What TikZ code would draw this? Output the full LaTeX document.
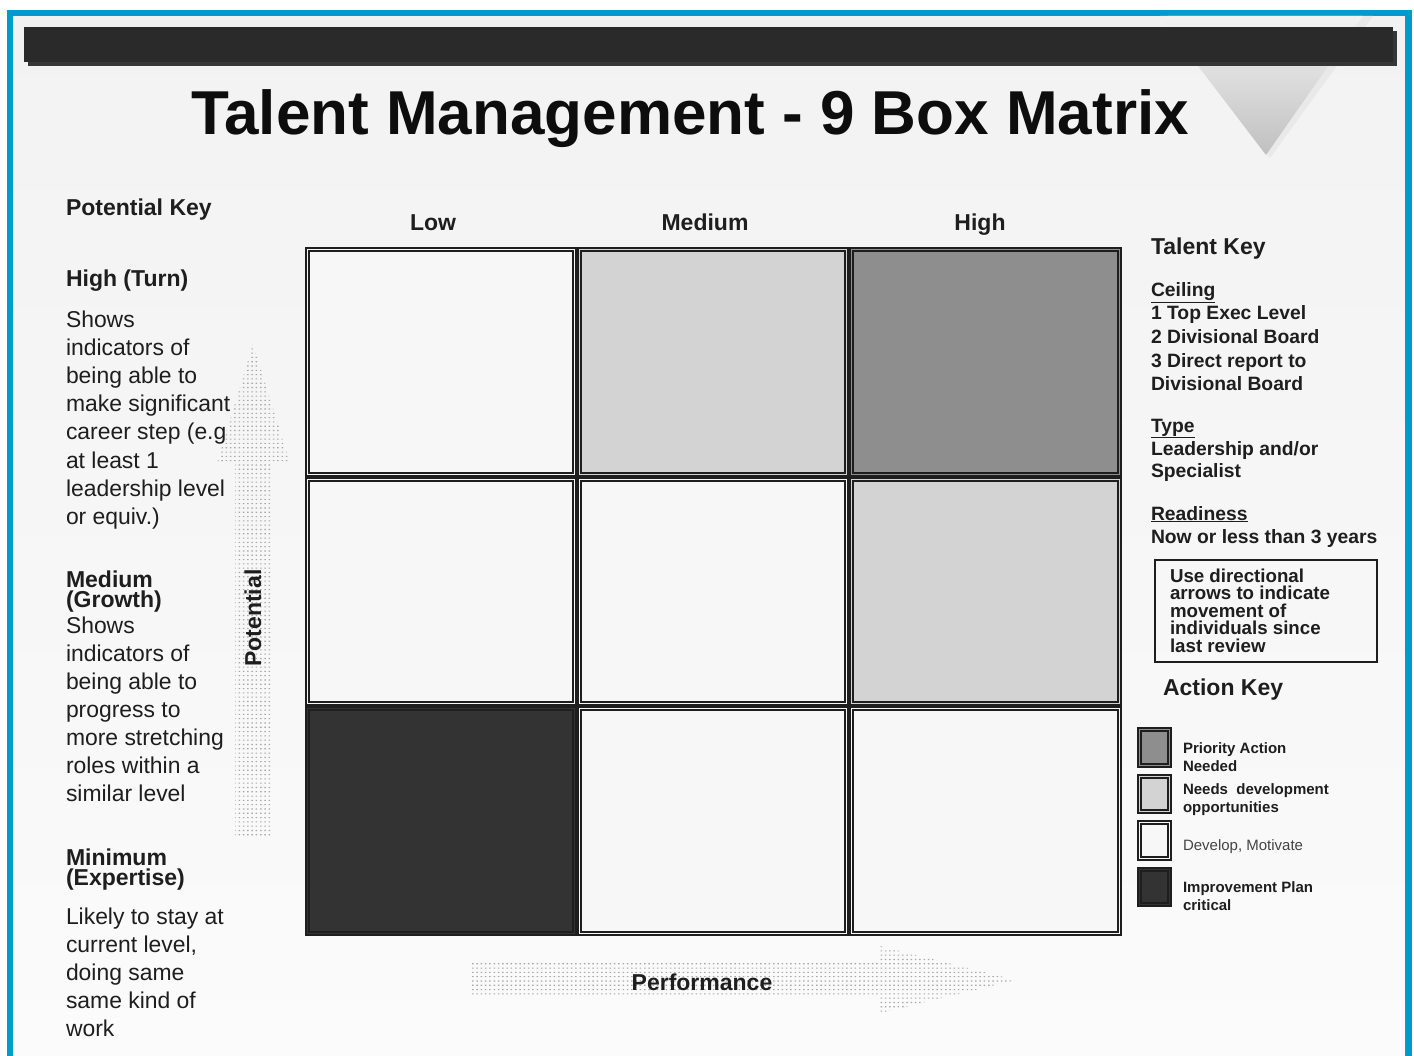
\documentclass[tikz,border=0pt]{standalone}
\usepackage{fontspec}
\setmainfont{Liberation Sans}
\definecolor{frameblue}{RGB}{0,155,205}
\definecolor{barfill}{HTML}{2A2A2A}
\definecolor{barshadow}{HTML}{363636}
\definecolor{ink}{HTML}{1E1E1E}
\definecolor{titleink}{HTML}{0D0D0D}
\definecolor{cellwhite}{HTML}{F7F7F7}
\definecolor{celllight}{HTML}{D3D3D3}
\definecolor{cellmid}{HTML}{8E8E8E}
\definecolor{celldark}{HTML}{333333}
\definecolor{cellline}{HTML}{1E1E1E}
\definecolor{dotgray}{HTML}{A8A8A8}
\definecolor{softink}{HTML}{444444}
\definecolor{bgtop}{HTML}{F2F2F2}
\definecolor{bgbottom}{HTML}{FBFBFB}
\definecolor{triback}{HTML}{E9E9E9}
\definecolor{tritop}{HTML}{F3F3F3}
\definecolor{tribottom}{HTML}{C0C0C0}
\begin{document}
\begin{tikzpicture}[x=1pt,y=-1pt,
  every node/.style={inner sep=0pt, outer sep=0pt, text=ink},
  keyhead/.style={font=\fontsize{23}{28}\selectfont\bfseries, anchor=base west},
  colhead/.style={font=\fontsize{23}{28}\selectfont\bfseries, anchor=base},
  body/.style={font=\fontsize{22.9}{28}\selectfont, anchor=base west},
  talent/.style={font=\fontsize{19.3}{24}\selectfont\bfseries, anchor=base west},
  notetext/.style={font=\fontsize{18.7}{17.5}\selectfont\bfseries, anchor=base west},
  legendtext/.style={font=\fontsize{15}{18}\selectfont\bfseries, anchor=base west},
  borderline/.style={draw=cellline, line width=1.6pt},
]
\useasboundingbox (0,0) rectangle (1414,1056);

% page background and blue frame
\fill[white] (0,0) rectangle (1414,1056);
\shade[top color=bgtop, bottom color=bgbottom] (13,16) rectangle (1405,1056);
\fill[frameblue] (7,10) rectangle (13,1056);
\fill[frameblue] (7,10) rectangle (1412,16);
\fill[frameblue] (1405,10) rectangle (1412,1056);

% decorative inverted triangle
\fill[triback] (1168,16) -- (1373,16) -- (1270,158) -- cycle;
\shade[top color=tritop, bottom color=tribottom] (1160,16) -- (1363,16) -- (1266,155) -- cycle;

% header bar with shadow
\fill[barshadow] (28,31) rectangle (1397,66);
\fill[barfill] (24,27) rectangle (1393,62);

% title
\node[anchor=base, text=titleink, font=\fontsize{62}{70}\selectfont\bfseries] (title) at (690,135)
  {Talent Management - 9 Box Matrix};

% dotted direction arrows
\begin{scope}
  \clip (253,344) -- (290,463) -- (271,463) -- (271,838) -- (235,838) -- (235,463) -- (217,463) -- cycle;
  \fill[dotgray] \foreach \i in {0,...,17} { \foreach \j in {0,...,115} { (217+\i*4.3,344+\j*4.3) rectangle ++(1.5,1.1) } };
\end{scope}
\begin{scope}
  \clip (472,963) -- (880,963) -- (880,946) -- (1016,980) -- (880,1013) -- (880,997) -- (472,997) -- cycle;
  \fill[dotgray] \foreach \i in {0,...,127} { \foreach \j in {0,...,16} { (472+\i*4.3,946+\j*4.3) rectangle ++(1.5,1.1) } };
\end{scope}
\node[font=\fontsize{23}{28}\selectfont\bfseries, rotate=90] (potential) at (253,618) {Potential};
\node[font=\fontsize{23}{28}\selectfont\bfseries] (performance) at (702,982) {Performance};

% nine box grid
\foreach \xa/\xb/\ya/\yb/\fc in {
  305/577/247/477/cellwhite, 577/849/247/477/celllight, 849/1122/247/477/cellmid,
  305/577/477/706/cellwhite, 577/849/477/706/cellwhite, 849/1122/477/706/celllight,
  305/577/706/936/celldark,  577/849/706/936/cellwhite, 849/1122/706/936/cellwhite} {
  \fill[\fc] (\xa,\ya) rectangle (\xb,\yb);
  \draw[borderline] (\xa+0.8,\ya+0.8) rectangle (\xb-0.8,\yb-0.8);
  \draw[borderline] (\xa+3.9,\ya+3.9) rectangle (\xb-3.9,\yb-3.9);
}

% column headings
\node[colhead] (low) at (433,231) {Low};
\node[colhead] (medium) at (705,231) {Medium};
\node[colhead] (high) at (980,231) {High};

% potential key
\node[keyhead] (potkey) at (66,216) {Potential Key};
\node[keyhead] (hightitle) at (66,287) {High (Turn)};
\foreach \t [count=\i] in {Shows, indicators of, being able to, make significant, career step (e.g, at least 1, leadership level, or equiv.)}
  \node[body] (hightext\i) at (66,328+28*\i-28) {\t};
\node[keyhead] (medtitle) at (66,587) {Medium};
\node[keyhead] (medtitleb) at (66,607) {(Growth)};
\foreach \t [count=\i] in {Shows, indicators of, being able to, progress to, more stretching, roles within a, similar level}
  \node[body] (medtext\i) at (66,633+28*\i-28) {\t};
\node[keyhead] (mintitle) at (66,865) {Minimum};
\node[keyhead] (mintitleb) at (66,885) {(Expertise)};
\foreach \t [count=\i] in {Likely to stay at, {current level,}, doing same, same kind of, work}
  \node[body] (mintext\i) at (66,924+28*\i-28) {\t};

% talent key
\node[keyhead] (talentkey) at (1151,255) {Talent Key};
\node[talent] (ceiling) at (1151,297) {\underline{Ceiling}};
\node[talent] (ceil1) at (1151,320) {1 Top Exec Level};
\node[talent] (ceil2) at (1151,344) {2 Divisional Board};
\node[talent] (ceil3) at (1151,368) {3 Direct report to};
\node[talent] (ceil3b) at (1151,391) {Divisional Board};
\node[talent] (type) at (1151,432) {\underline{Type}};
\node[talent] (type1) at (1151,455) {Leadership and/or};
\node[talent] (type2) at (1151,478) {Specialist};
\node[talent] (readiness) at (1151,520) {\underline{Readiness}};
\node[talent] (ready1) at (1151,543) {Now or less than 3 years};

% note box
\draw[draw=cellline, line width=1.6pt] (1155,560) rectangle (1377,662);
\foreach \t [count=\i] in {Use directional, arrows to indicate, movement of, individuals since, last review}
  \node[notetext] (note\i) at (1170,582+17.5*\i-17.5) {\t};

% action key
\node[keyhead] (actionkey) at (1163,695) {Action Key};
\foreach \ya/\yb/\fc in {727/768/cellmid, 774/814/celllight, 820/861/cellwhite, 867/907/celldark} {
  \fill[\fc] (1137,\ya) rectangle (1172,\yb);
  \draw[borderline] (1137.8,\ya+0.8) rectangle (1171.2,\yb-0.8);
  \draw[borderline] (1140.8,\ya+3.8) rectangle (1168.2,\yb-3.8);
}
\node[legendtext] (leg1) at (1183,753) {Priority Action};
\node[legendtext] (leg1b) at (1183,771) {Needed};
\node[legendtext] (leg2) at (1183,794) {Needs\ \ development};
\node[legendtext] (leg2b) at (1183,812) {opportunities};
\node[anchor=base west, font=\fontsize{15}{18}\selectfont, text=softink] (leg3) at (1183,850) {Develop, Motivate};
\node[legendtext] (leg4) at (1183,892) {Improvement Plan};
\node[legendtext] (leg4b) at (1183,910) {critical};
\end{tikzpicture}
\end{document}
